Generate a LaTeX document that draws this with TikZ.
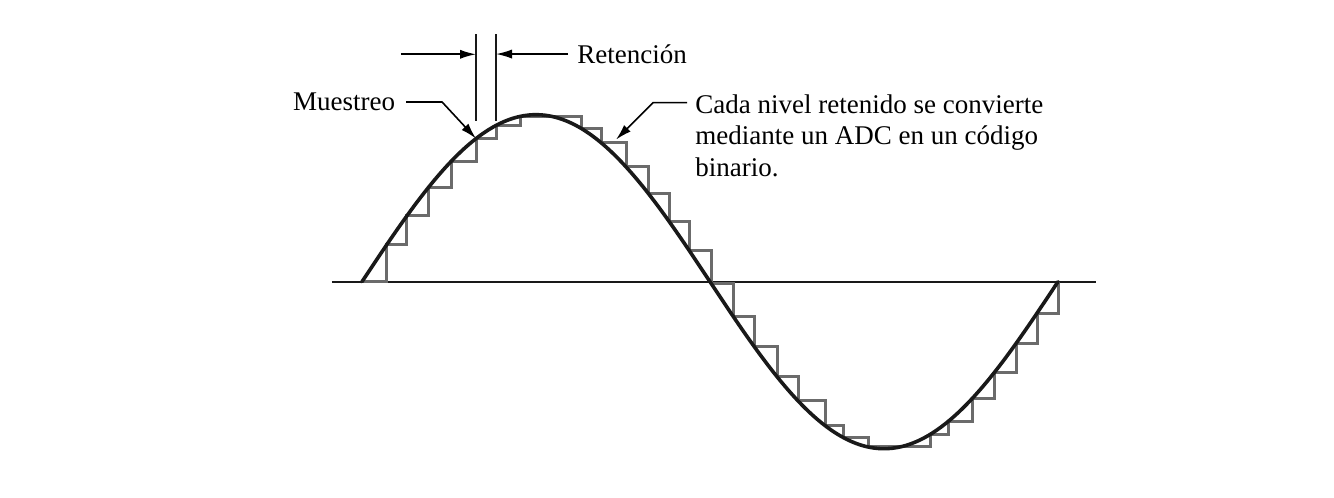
\documentclass[tikz,border=0pt]{standalone}
\usepackage{fontspec}
\setmainfont{Liberation Serif}
\usetikzlibrary{arrows.meta}
\tikzset{
  tag/.style={inner sep=0pt, font=\fontsize{13.5}{15.85}\selectfont, anchor=base west, align=left},
  signal/.style={line width=1.8pt, black!90, line cap=round},
  hold/.style={line width=1.5pt, black!58, line join=miter},
  axisline/.style={line width=1pt, black!90},
  guide/.style={line width=1pt, black!90},
  leader/.style={-{Latex[length=8pt,width=4.6pt]}, line width=0.8pt}
}

\begin{document}
\begin{tikzpicture}[x=0.5pt, y=0.5pt, declare function={sig(\t)=167*sin(\t/696*360);}]
\useasboundingbox (-362,-216.3) rectangle (972,281.7);

\draw[axisline] (-30,0) -- (734,0);
\draw[hold] (0,0) foreach \t in {25,45,66,89,114,134,158,219,239,264,286,307,327,349,371,392,415,436,463,481,506,568,586,610,632,654,675,696} { -| (\t,{sig(\t)}) };
\draw[signal] plot[domain=0:696, samples=160, smooth] (\x,{sig(\x)});

\coordinate (muestra) at (114,{sig(114)});
\coordinate (nivel) at (254,{sig(239)+3});
\coordinate (holdA) at (114,227.4);
\coordinate (holdB) at (134,227.4);
\coordinate (retstart) at (39,227.4);
\coordinate (cadapin) at (325,179);

\draw[guide] (114,160.7) -- (114,247.7);
\draw[guide] (134,160.7) -- (134,247.7);

\node[tag] (retencion) at (215,218.4) {Retención};
\node[tag] (muestreo) at (-69.3,171) {Muestreo};
\node[tag] (cada) at (333,105) {Cada nivel retenido se convierte\\mediante un ADC en un código\\binario.};

\draw[leader] (retstart) -- (holdA);
\draw[leader] ([xshift=-4.5pt]retencion.west) -- (retencion.west -| holdB);
\draw[leader] ([xshift=5.3pt]muestreo.east) -- ++(36,0) -- (muestra);
\draw[leader] (cadapin) -- ++(-34,0) -- (nivel);
\end{tikzpicture}
\end{document}
